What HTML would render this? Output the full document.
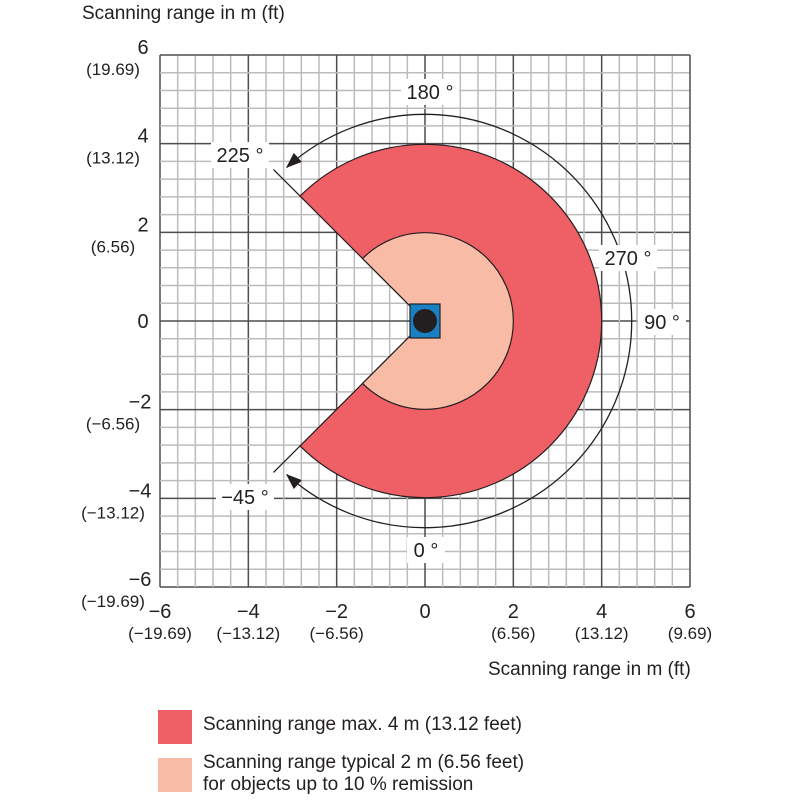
<!DOCTYPE html>
<html><head><meta charset="utf-8"><style>
body{margin:0;background:#fff;width:800px;height:800px;overflow:hidden;font-family:"Liberation Sans",sans-serif}
svg text{font-family:"Liberation Sans",sans-serif;fill:#231f20}
</style></head><body>
<svg id="c" width="800" height="800" style="position:absolute;left:0;top:0">
<defs><marker id="ah" markerWidth="16" markerHeight="12" refX="15" refY="6" orient="auto" markerUnits="userSpaceOnUse"><path d="M0,0 L16,6 L0,12 Z" fill="#231f20"/></marker>
<marker id="ahs" markerWidth="16" markerHeight="12" refX="1" refY="6" orient="auto" markerUnits="userSpaceOnUse"><path d="M16,0 L0,6 L16,12 Z" fill="#231f20"/></marker></defs>
<g id="grid"></g>
<g id="sectors"></g>
<g id="ann"></g>
<g id="labels"></g>
</svg>
<script>
const ticks=[-6,-4,-2,0,2,4,6];
const tickFt=["(−19.69)","(−13.12)","(−6.56)","","(6.56)","(13.12)","(9.69)"];
const yTickFt=["(−19.69)","(−13.12)","(−6.56)","","(6.56)","(13.12)","(19.69)"];
const maxRange=[4];
const typRange=[2];
const startAngle=[-45];
const endAngle=[225];
const angleLabels=[180,225,270,90,-45,0];
const NS='http://www.w3.org/2000/svg';
const X0=160,X1=690,Y0=55,Y1=587;
const sx=v=>X0+(v+6)*(X1-X0)/12, sy=v=>Y1-(v+6)*(Y1-Y0)/12;
const ppu=(X1-X0)/12;
function mk(t,a,p){const e=document.createElementNS(NS,t);for(const k in a)e.setAttribute(k,a[k]);(p||document.getElementById('c')).appendChild(e);return e;}
const g=document.getElementById('grid');
for(let i=0;i<=30;i++){const v=-6+i*0.4;const major=i%5===0;
 const l1=mk('line',{x1:sx(v),x2:sx(v),y1:Y0,y2:Y1,stroke:major?'#4d4d4d':'#bcbcbc','stroke-width':1.5},g);
 
 const l2=mk('line',{x1:X0,x2:X1,y1:sy(v),y2:sy(v),stroke:major?'#4d4d4d':'#bcbcbc','stroke-width':1.5},g);
 }
const cx=sx(0),cy=sy(0);
const pt=(deg,r)=>[cx+r*Math.sin(deg*Math.PI/180),cy+r*Math.cos(deg*Math.PI/180)];
function sector(r,a0,a1,fill,name){const R=r*ppu;const p0=pt(a0,R),p1=pt(a1,R);
 const e=mk('path',{d:`M${cx},${cy} L${p0[0]},${p0[1]} A${R},${R} 0 1 0 ${p1[0]},${p1[1]} Z`,fill:fill,stroke:'#231f20','stroke-width':1.2},document.getElementById('sectors'));
 }
sector(maxRange[0],startAngle[0],endAngle[0],'#ef5f66','max-range-sector');
sector(typRange[0],startAngle[0],endAngle[0],'#f7bba6','typical-range-sector');
const s=document.getElementById('sectors');
const sq=mk('rect',{x:cx-15,y:cy-17,width:30,height:34,fill:'#1a80c4',stroke:'#231f20','stroke-width':1.2},s);

const ci=mk('circle',{cx:cx,cy:cy,r:12,fill:'#231f20'},s);

const an=document.getElementById('ann');
[startAngle[0],endAngle[0]].forEach(a=>{const p=pt(a,maxRange[0]*ppu),q=pt(a,4.85*ppu);
 const l=mk('line',{x1:p[0],y1:p[1],x2:q[0],y2:q[1],stroke:'#231f20','stroke-width':1.3},an);
 });
const AR=4.68*ppu;
const ap0=pt(startAngle[0]+3,AR),ap1=pt(endAngle[0]-3,AR);
const arc=mk('path',{d:`M${ap1[0]},${ap1[1]} A${AR},${AR} 0 1 1 ${ap0[0]},${ap0[1]}`,fill:'none',stroke:'#231f20','stroke-width':1.3,'marker-end':'url(#ah)','marker-start':'url(#ahs)'},an);

const alPos={180:[430,92],225:[240,155],270:[628,258],90:[662,322],'-45':[245,497],0:[426,550]};
angleLabels.forEach(a=>{const p=alPos[a];const txt=(a<0?'−'+(-a):a)+' °';
 const w=txt.length*10+8;
 const r=mk('rect',{x:p[0]-w/2,y:p[1]-13,width:w,height:26,fill:'#fff'},an);
 
 const t=mk('text',{x:p[0],y:p[1]+7,'text-anchor':'middle','font-size':20},an);t.textContent=txt;
 });
const lb=document.getElementById('labels');
ticks.forEach((v,i)=>{
 const t=mk('text',{x:sx(v),y:618,'text-anchor':'middle','font-size':20},lb);t.textContent=(v<0?'−'+(-v):v);
 
 if(tickFt[i]){const f=mk('text',{x:sx(v),y:639,'text-anchor':'middle','font-size':17},lb);f.textContent=tickFt[i];
 }
 const y=sy(v);
 const t2=mk('text',{x:v<0?140:143,y:y+(yTickFt[i]?-1:7),'text-anchor':'middle','font-size':20},lb);t2.textContent=(v<0?'−'+(-v):v);
 
 if(yTickFt[i]){const f=mk('text',{x:113,y:y+20,'text-anchor':'middle','font-size':17},lb);f.textContent=yTickFt[i];
 }
});
</script>
<div style="position:absolute;left:82px;top:3px;font-size:19px;color:#231f20;white-space:nowrap">Scanning range in m (ft)</div>
<div style="position:absolute;left:488px;top:659px;font-size:19px;color:#231f20;white-space:nowrap">Scanning range in m (ft)</div>
<div style="position:absolute;left:158px;top:710px;width:600px;font-size:19px;color:#231f20;line-height:22px;white-space:nowrap">
<div style="position:relative;height:34px"><span style="position:absolute;left:0;top:0;width:34px;height:34px;background:#ef5f66"></span><span style="position:absolute;left:45px;top:4px">Scanning range max. 4 m (13.12 feet)</span></div>
<div style="position:relative;height:44px;margin-top:14px"><span style="position:absolute;left:0;top:0;width:34px;height:34px;background:#f7bba6"></span><span style="position:absolute;left:45px;top:-6px">Scanning range typical 2 m (6.56 feet)<br>for objects up to 10 % remission</span></div>
</div>
</body></html>
